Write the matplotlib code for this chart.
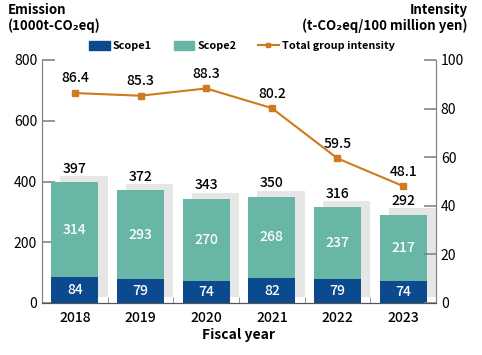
import numpy as np
import matplotlib.pyplot as plt
from matplotlib.patches import Patch
from matplotlib.lines import Line2D

plt.rcParams['font.family'] = ['Noto Sans CJK JP', 'DejaVu Sans']

years = ['2018', '2019', '2020', '2021', '2022', '2023']
scope1 = [84, 79, 74, 82, 79, 74]
scope2 = [314, 293, 270, 268, 237, 217]
totals = [397, 372, 343, 350, 316, 292]
intensity = [86.4, 85.3, 88.3, 80.2, 59.5, 48.1]

c_s1 = '#0b4a8f'
c_s2 = '#67b6a6'
c_line = '#cf7a1c'
c_shadow = '#e6e6e6'
c_axis = '#858585'

fig = plt.figure(figsize=(4.82, 3.55), dpi=100)
ax = fig.add_axes([42/482, 1-303/355, (436-42)/482, (303-60)/355])
ax2 = ax.twinx()
ax.set_zorder(ax2.get_zorder() - 1)
ax.patch.set_visible(True)
ax2.patch.set_visible(False)

x = np.arange(len(years))
w = 0.72
# drop shadow behind each stacked bar
ax.bar(x + 0.14, totals, w, bottom=20, color=c_shadow, zorder=1)
ax.bar(x, scope1, w, color=c_s1, zorder=2)
ax.bar(x, scope2, w, bottom=scope1, color=c_s2, zorder=2)

for i in range(len(years)):
    ax.text(x[i], scope1[i] / 2, str(scope1[i]), ha='center', va='center',
            color='white', fontsize=10, fontweight='medium', zorder=3)
    ax.text(x[i], scope1[i] + scope2[i] / 2, str(scope2[i]), ha='center',
            va='center', color='white', fontsize=10, fontweight='medium', zorder=3)
    ax.text(x[i], totals[i] + 44, str(totals[i]), ha='center', va='center',
            color='black', fontsize=10, fontweight='medium', zorder=3)

ax2.plot(x, intensity, color=c_line, lw=1.5, marker='s', ms=4, zorder=4)
for i in range(len(years)):
    ax2.text(x[i], intensity[i] + 6, f'{intensity[i]:.1f}', ha='center',
             va='center', fontsize=10, fontweight='medium', color='black')

ax.set_xlim(-0.5, len(years) - 0.5)
ax.set_ylim(0, 800)
ax2.set_ylim(0, 100)
ax.set_yticks([0, 200, 400, 600, 800])
ax2.set_yticks([0, 20, 40, 60, 80, 100])
ax.set_xticks(x)
ax.set_xticklabels(years, fontweight='medium')
ax.set_xticks(np.arange(len(years) - 1) + 0.5, minor=True)
ax.tick_params(axis='x', which='major', length=0, labelsize=10, pad=6)
ax.tick_params(axis='x', which='minor', direction='in', length=4, color=c_axis)
ax.tick_params(axis='y', direction='in', length=9, labelsize=10, color=c_axis, width=1.2)
ax2.tick_params(axis='y', direction='in', length=9, labelsize=10, color=c_axis, width=1.2)

for a in (ax, ax2):
    a.spines['top'].set_visible(False)
    for s in ('left', 'right', 'bottom'):
        a.spines[s].set_color(c_axis)
    a.spines['bottom'].set_color('#555555')

ax.set_xlabel('Fiscal year', fontsize=10, fontweight='bold', labelpad=2)

fig.text(8/482, 1-3/355, 'Emission\n(1000t-CO₂eq)', ha='left', va='top',
         fontsize=9.5, fontweight='bold', linespacing=1.1)
fig.text(468/482, 1-3/355, 'Intensity\n(t-CO₂eq/100 million yen)', ha='right',
         va='top', fontsize=9.5, fontweight='bold', linespacing=1.1)

handles = [Patch(color=c_s1), Patch(color=c_s2),
           Line2D([0], [0], color=c_line, lw=1.5, marker='s', ms=3)]
labels = ['Scope1', 'Scope2', 'Total group intensity']
fig.legend(handles, labels, loc='center', bbox_to_anchor=(242/482, 1-46/355),
           ncol=3, frameon=False, prop={'size': 7.8, 'weight': 'bold'},
           handlelength=1.9, handleheight=1.0, columnspacing=2.0, handletextpad=0.3)

fig.savefig('out.png', dpi=100)
